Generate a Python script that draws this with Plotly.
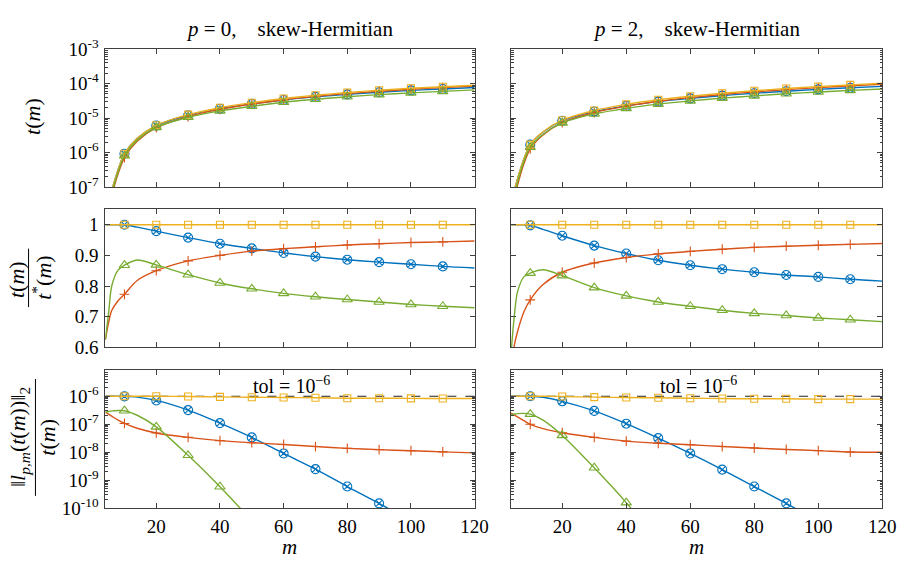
import plotly.graph_objects as go

W, H = 913, 572
SERIF = "Liberation Serif"

# ---------------- data ----------------
M = [4, 5, 6, 8, 10, 14, 20, 30, 40, 50, 60, 70, 80, 90, 100, 110, 120]
MARK_M = [10, 20, 30, 40, 50, 60, 70, 80, 90, 100, 110]
X_TICKS = [20, 40, 60, 80, 100, 120]
TOL = 1e-6

# row 1: t(m)
t_p0_blue = [1.5e-8, 3.8e-8, 8e-8, 3.2e-7, 9.3e-7, 2.58e-6, 6.07e-6, 1.207e-5, 1.876e-5, 2.584e-5, 3.36e-5, 4.12e-5, 4.87e-5, 5.62e-5, 6.36e-5, 7.0e-5, 7.73e-5]
t_p0_red = [9.4e-9, 2.58e-8, 5.76e-8, 2.41e-7, 7.19e-7, 2.13e-6, 5.27e-6, 1.111e-5, 1.8e-5, 2.56e-5, 3.41e-5, 4.27e-5, 5.14e-5, 6.0e-5, 6.88e-5, 7.65e-5, 8.52e-5]
t_p0_yellow = [1.5e-8, 3.8e-8, 8e-8, 3.2e-7, 9.3e-7, 2.6e-6, 6.2e-6, 1.26e-5, 2.0e-5, 2.8e-5, 3.7e-5, 4.6e-5, 5.5e-5, 6.4e-5, 7.3e-5, 8.1e-5, 9.0e-5]
t_p0_green = [9.4e-9, 2.7e-8, 6.4e-8, 2.73e-7, 8.07e-7, 2.3e-6, 5.39e-6, 1.055e-5, 1.62e-5, 2.21e-5, 2.87e-5, 3.52e-5, 4.16e-5, 4.79e-5, 5.4e-5, 5.95e-5, 6.56e-5]

t_p2_blue = [2.8e-8, 7.7e-8, 1.7e-7, 6.5e-7, 1.7e-6, 3.94e-6, 8.39e-6, 1.547e-5, 2.265e-5, 3.006e-5, 3.73e-5, 4.49e-5, 5.24e-5, 6.02e-5, 6.81e-5, 7.56e-5, 8.32e-5]
t_p2_red = [1.4e-8, 4.66e-8, 1.105e-7, 4.65e-7, 1.28e-6, 3.22e-6, 7.35e-6, 1.453e-5, 2.23e-5, 3.08e-5, 3.93e-5, 4.83e-5, 5.74e-5, 6.7e-5, 7.65e-5, 8.61e-5, 9.58e-5]
t_p2_yellow = [2.8e-8, 7.7e-8, 1.7e-7, 6.5e-7, 1.7e-6, 4.0e-6, 8.7e-6, 1.66e-5, 2.5e-5, 3.4e-5, 4.3e-5, 5.25e-5, 6.2e-5, 7.2e-5, 8.2e-5, 9.2e-5, 1.02e-4]
t_p2_green = [1.62e-8, 5.39e-8, 1.33e-7, 5.4e-7, 1.43e-6, 3.41e-6, 7.26e-6, 1.32e-5, 1.92e-5, 2.54e-5, 3.16e-5, 3.79e-5, 4.41e-5, 5.07e-5, 5.71e-5, 6.35e-5, 6.98e-5]

# row 2: t(m) / t*(m)
r_p0_blue = [1.0, 1.0, 1.0, 1.0, 1.0, 0.992, 0.979, 0.958, 0.938, 0.923, 0.908, 0.896, 0.886, 0.878, 0.871, 0.864, 0.859]
r_p0_red = [0.625, 0.68, 0.72, 0.752, 0.773, 0.818, 0.85, 0.882, 0.9, 0.914, 0.922, 0.928, 0.934, 0.938, 0.942, 0.944, 0.947]
r_p0_yellow = [1.0] * 17
r_p0_green = [0.625, 0.71, 0.8, 0.852, 0.868, 0.885, 0.869, 0.837, 0.81, 0.791, 0.776, 0.765, 0.756, 0.748, 0.74, 0.734, 0.729]

r_p2_blue = [1.0, 1.0, 1.0, 1.0, 0.998, 0.985, 0.964, 0.932, 0.906, 0.884, 0.868, 0.855, 0.845, 0.836, 0.83, 0.822, 0.816]
r_p2_red = [0.5, 0.605, 0.65, 0.715, 0.755, 0.805, 0.845, 0.875, 0.893, 0.905, 0.913, 0.92, 0.926, 0.93, 0.933, 0.936, 0.939]
r_p2_yellow = [1.0] * 17
r_p2_green = [0.58, 0.7, 0.78, 0.83, 0.842, 0.853, 0.834, 0.795, 0.768, 0.748, 0.734, 0.721, 0.711, 0.704, 0.696, 0.69, 0.684]

# row 3: ||l_{p,m}(t(m))||_2 / t(m)
e_p0_blue = [1e-6, 1e-6, 1e-6, 1e-6, 9.9e-7, 9.3e-7, 7.1e-7, 3.2e-7, 1.1e-7, 3.4e-8, 9.1e-9, 2.5e-9, 6.0e-10, 1.5e-10, 3.3e-11, 7e-12, 1.4e-12]
e_p0_red = [2.7e-7, 2.3e-7, 1.95e-7, 1.4e-7, 1.07e-7, 7.2e-8, 4.9e-8, 3.4e-8, 2.6e-8, 2.2e-8, 1.9e-8, 1.6e-8, 1.38e-8, 1.24e-8, 1.14e-8, 1.03e-8, 9.5e-9]
e_p0_yellow = [1e-6, 1e-6, 1e-6, 1e-6, 1e-6, 1e-6, 1e-6, 9.8e-7, 9.5e-7, 9.2e-7, 9.0e-7, 8.8e-7, 8.5e-7, 8.5e-7, 8.4e-7, 8.3e-7, 8.3e-7]
e_p0_green = [2.7e-7, 2.85e-7, 3.0e-7, 3.1e-7, 3.05e-7, 2.1e-7, 8.1e-8, 7.8e-9, 5.9e-10, 3.5e-11, 1.5e-12]

e_p2_blue = [1e-6, 1e-6, 1e-6, 1e-6, 1e-6, 9.2e-7, 6.6e-7, 3.0e-7, 1.05e-7, 3.2e-8, 9.1e-9, 2.4e-9, 6.0e-10, 1.5e-10, 3.3e-11, 7e-12, 1.4e-12]
e_p2_red = [2.5e-7, 2.15e-7, 1.85e-7, 1.35e-7, 1.0e-7, 7.0e-8, 5.0e-8, 3.4e-8, 2.5e-8, 2.1e-8, 1.86e-8, 1.6e-8, 1.42e-8, 1.26e-8, 1.15e-8, 1.02e-8, 1.0e-8]
e_p2_yellow = [1e-6, 1e-6, 1e-6, 1e-6, 1e-6, 1e-6, 9.8e-7, 9.3e-7, 9.0e-7, 8.8e-7, 8.5e-7, 8.3e-7, 8.1e-7, 8.1e-7, 7.9e-7, 7.9e-7, 7.9e-7]
e_p2_green = [2.2e-7, 2.3e-7, 2.4e-7, 2.45e-7, 2.3e-7, 1.4e-7, 4.0e-8, 2.8e-9, 1.6e-10, 6e-12]

TITLES = ["<i>p</i> = 0,    skew-Hermitian", "<i>p</i> = 2,    skew-Hermitian"]

# ---------------- style ----------------
COLORS = ["#0072BD", "#D95319", "#EDB120", "#77AC30"]
SYMBOLS = ["circle-x-open", "cross-thin-open", "square-open", "triangle-up-open"]
MSIZES = [9, 7, 7, 9]

PANELS = {
    (1, 1): [t_p0_blue, t_p0_red, t_p0_yellow, t_p0_green],
    (1, 2): [t_p2_blue, t_p2_red, t_p2_yellow, t_p2_green],
    (2, 1): [r_p0_blue, r_p0_red, r_p0_yellow, r_p0_green],
    (2, 2): [r_p2_blue, r_p2_red, r_p2_yellow, r_p2_green],
    (3, 1): [e_p0_blue, e_p0_red, e_p0_yellow, e_p0_green],
    (3, 2): [e_p2_blue, e_p2_red, e_p2_yellow, e_p2_green],
}

def px(x):
    return x / W

def py(y):
    return 1 - y / H

def log_minor(e_lo, e_hi):
    return [k * 10.0 ** e for e in range(e_lo, e_hi) for k in range(2, 10)]

XDOM = {1: [px(107), px(482)], 2: [px(519), px(896)]}
YDOM = {1: [py(181.7), py(37.7)], 2: [py(349), py(205)], 3: [py(517), py(373)]}

fig = go.Figure()

AX = "#404040"
base_axis = dict(showline=True, linecolor=AX, linewidth=1, mirror="ticks",
                 ticks="inside", ticklen=5, tickcolor=AX, tickwidth=1,
                 showgrid=False, zeroline=False,
                 tickfont=dict(family=SERIF, size=19, color="black"))

layout_axes = {}
for r in (1, 2, 3):
    for c in (1, 2):
        k = (r - 1) * 2 + c
        xs = "" if k == 1 else str(k)
        xa = dict(base_axis, domain=XDOM[c], anchor="y" + xs, range=[4, 120],
                  tickmode="array", tickvals=X_TICKS,
                  ticktext=[str(v) for v in X_TICKS],
                  showticklabels=(r == 3), ticklabelstandoff=1)
        ya = dict(base_axis, domain=YDOM[r], anchor="x" + xs, showticklabels=(c == 1),
                  ticklabelstandoff=2)
        if r == 1:
            vals = [1e-7, 1e-6, 1e-5, 1e-4, 1e-3]
            ya.update(type="log", range=[-7, -3], tickmode="array", tickvals=vals,
                      ticktext=["10<sup>-%d</sup>" % e for e in (7, 6, 5, 4, 3)],
                      minor=dict(ticks="inside", ticklen=2.5, tickcolor=AX, tickmode="array",
                                 tickvals=log_minor(-7, -3), showgrid=False))
        elif r == 2:
            vals = [0.6, 0.7, 0.8, 0.9, 1.0]
            ya.update(range=[0.6, 1.05], tickmode="array", tickvals=vals,
                      ticktext=["0.6", "0.7", "0.8", "0.9", "1"])
        else:
            vals = [1e-10, 1e-9, 1e-8, 1e-7, 1e-6]
            ya.update(type="log", range=[-10, -5.075], tickmode="array", tickvals=vals,
                      ticktext=["10<sup>-%d</sup>" % e for e in (10, 9, 8, 7, 6)],
                      minor=dict(ticks="inside", ticklen=2.5, tickcolor=AX, tickmode="array",
                                 tickvals=log_minor(-10, -5), showgrid=False))
        layout_axes["xaxis" + xs] = xa
        layout_axes["yaxis" + xs] = ya

        if r == 3:
            fig.add_trace(go.Scatter(x=[M[0], M[-1]], y=[TOL, TOL], mode="lines",
                                     line=dict(color="#222", width=1, dash="dash"),
                                     xaxis="x" + xs, yaxis="y" + xs, showlegend=False,
                                     hoverinfo="skip"))
        for i, ys in enumerate(PANELS[(r, c)]):
            mm = M[:len(ys)]
            fig.add_trace(go.Scatter(x=mm, y=ys, mode="lines",
                                     line=dict(color=COLORS[i], width=1.4, shape="spline", smoothing=0.8),
                                     xaxis="x" + xs, yaxis="y" + xs, showlegend=False))
            idx = [j for j, v in enumerate(mm) if v in MARK_M]
            fig.add_trace(go.Scatter(x=[mm[j] for j in idx], y=[ys[j] for j in idx], mode="markers",
                                     marker=dict(symbol=SYMBOLS[i], size=MSIZES[i], color=COLORS[i],
                                                 line=dict(color=COLORS[i], width=1.1)),
                                     xaxis="x" + xs, yaxis="y" + xs, showlegend=False))

ann = []
for c in (1, 2):
    ann.append(dict(text=TITLES[c - 1], x=sum(XDOM[c]) / 2, y=py(17), xref="paper", yref="paper",
                    showarrow=False, xanchor="center", yanchor="middle",
                    font=dict(family=SERIF, size=21, color="black")))
    ann.append(dict(text="<i>m</i>", x=sum(XDOM[c]) / 2, y=py(557), xref="paper", yref="paper",
                    showarrow=False, xanchor="center", yanchor="middle",
                    font=dict(family=SERIF, size=21, color="black")))
    ann.append(dict(text="tol = 10<sup>−6</sup>", x=62.5, y=-5.59, xref="x" + ("5" if c == 1 else "6"),
                    yref="y" + ("5" if c == 1 else "6"), showarrow=False, xanchor="center", yanchor="middle",
                    font=dict(family=SERIF, size=20, color="black")))

LBL = dict(family=SERIF, size=22, color="black")
ann.append(dict(text="<i>t</i>(<i>m</i>)", x=px(33), y=py(108), xref="paper", yref="paper",
                showarrow=False, textangle=-90, xanchor="center", yanchor="middle", font=LBL))
ann.append(dict(text="<i>t</i>(<i>m</i>)", x=px(17), y=py(278), xref="paper", yref="paper",
                showarrow=False, textangle=-90, xanchor="center", yanchor="middle", font=LBL))
ann.append(dict(text="<i>t</i><sup>*</sup>(<i>m</i>)", x=px(43), y=py(276), xref="paper", yref="paper",
                showarrow=False, textangle=-90, xanchor="center", yanchor="middle", font=LBL))
ann.append(dict(text="‖<i>l</i><sub><i>p,m</i></sub>(<i>t</i>(<i>m</i>))‖<sub>2</sub>", x=px(20), y=py(443),
                xref="paper", yref="paper", showarrow=False, textangle=-90, xanchor="center",
                yanchor="middle", font=LBL))
ann.append(dict(text="<i>t</i>(<i>m</i>)", x=px(48), y=py(443), xref="paper", yref="paper",
                showarrow=False, textangle=-90, xanchor="center", yanchor="middle", font=LBL))

shapes = [
    dict(type="line", xref="paper", yref="paper", x0=px(29), x1=px(29), y0=py(246), y1=py(307),
         line=dict(color="black", width=1)),
    dict(type="line", xref="paper", yref="paper", x0=px(36), x1=px(36), y0=py(382), y1=py(504),
         line=dict(color="black", width=1)),
]

fig.update_layout(width=W, height=H, margin=dict(l=0, r=0, t=0, b=0), autosize=False,
                  paper_bgcolor="white", plot_bgcolor="white",
                  font=dict(family=SERIF),
                  annotations=ann, shapes=shapes, **layout_axes)

fig.write_html("out.html")
